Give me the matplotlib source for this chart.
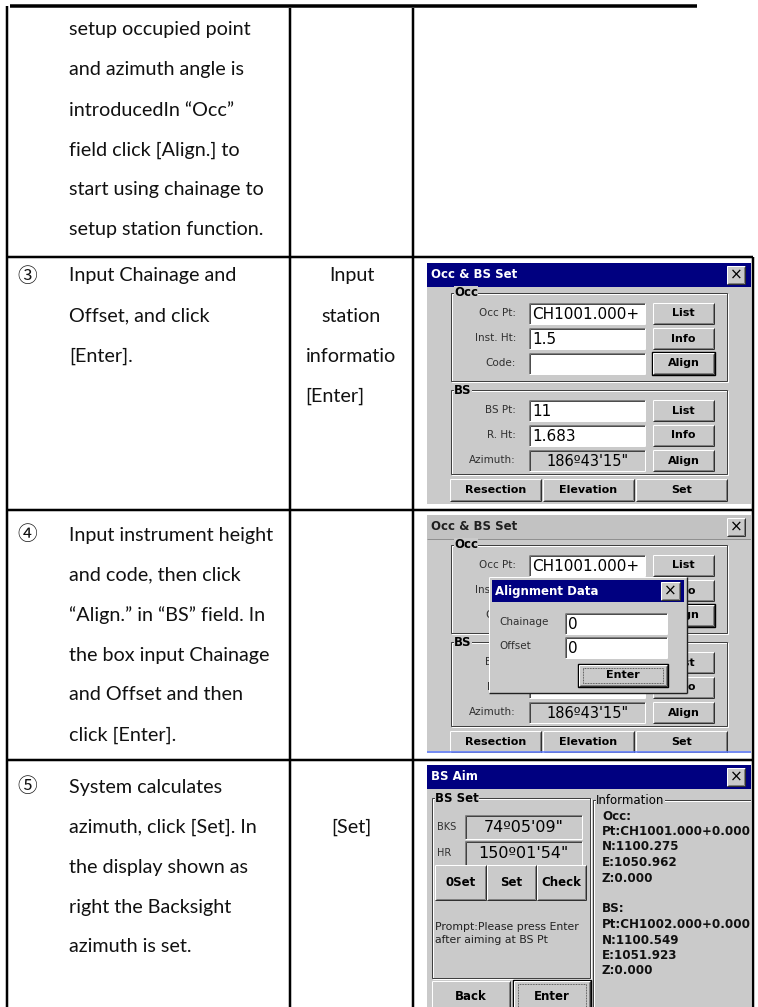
import matplotlib
matplotlib.use("Agg")
import matplotlib.pyplot as plt
from matplotlib.patches import Rectangle

# ---------------- content ----------------
row1_steps = ["setup occupied point", "and azimuth angle is", "introducedIn \u201cOcc\u201d",
              "field click [Align.] to", "start using chainage to", "setup station function."]
row3_num = "\u2462"
row3_steps = ["Input Chainage and", "Offset, and click", "[Enter]."]
row3_keys = ["Input", "station", "informatio"]
row3_key_last = "[Enter]"
row4_num = "\u2463"
row4_steps = ["Input instrument height", "and code, then click", "\u201cAlign.\u201d in \u201cBS\u201d field. In",
              "the box input Chainage", "and Offset and then", "click [Enter]."]
row5_num = "\u2464"
row5_steps = ["System calculates", "azimuth, click [Set]. In", "the display shown as",
              "right the Backsight", "azimuth is set."]
row5_keys = ["", "[Set]"]

occ_labels = ["Occ Pt:", "Inst. Ht:", "Code:"]
occ_values = ["CH1001.000+", "1.5", ""]
bs_labels = ["BS Pt:", "R. Ht:", "Azimuth:"]
bs_values = ["11", "1.683", "186\u00ba43'15\""]
side_buttons = ["List", "Info", "Align"]
bottom_buttons = ["Resection", "Elevation", "Set"]
align_labels = ["Chainage", "Offset"]
align_values = ["0", "0"]
aim_labels = ["BKS", "HR"]
aim_values = ["74\u00ba05'09\"", "150\u00ba01'54\""]
aim_buttons = ["0Set", "Set", "Check"]
prompt_lines = ["Prompt:Please press Enter", "after aiming at BS Pt"]
info_lines = ["Occ:", "Pt:CH1001.000+0.000", "N:1100.275", "E:1050.962", "Z:0.000", "",
              "BS:", "Pt:CH1002.000+0.000", "N:1100.549", "E:1051.923", "Z:0.000"]

# ---------------- page ----------------
W, H = 758, 1007
PX = 0.72
fig = plt.figure(figsize=(W / 100, H / 100), dpi=100)
ax = fig.add_axes([0, 0, 1, 1])
ax.set_xlim(0, W)
ax.set_ylim(H, 0)
ax.axis("off")

BODY = ["Lato", "DejaVu Sans"]
NUMF = ["Noto Sans CJK SC", "DejaVu Sans"]
BFS = 14.2

def hl(a, x0, x1, y, c="black", lw=1.0):
    a.plot([x0, x1], [y, y], color=c, lw=lw * PX, solid_capstyle="butt")

def vl(a, x, y0, y1, c="black", lw=1.0):
    a.plot([x, x], [y0, y1], color=c, lw=lw * PX, solid_capstyle="butt")

# table lines
L, C1, C2, R = 7, 290, 413, 753
rows_y = [257, 510, 760]
hl(ax, 10, 697, 6, lw=3.5)
vl(ax, L, 6, H, lw=2.5)
vl(ax, C1, 8, H, lw=2.5)
vl(ax, C2, 8, H, lw=2.5)
vl(ax, R, rows_y[0], H, lw=2.5)
for y in rows_y:
    hl(ax, L, R, y, lw=2.5)

TX = 69
LS = 40

def body(x, y, s, ha="left"):
    ax.text(x, y, s, ha=ha, va="center", fontsize=BFS, family=BODY, color="#111111")

for i, s in enumerate(row1_steps):
    body(TX, 30 + LS * i, s)

def block(y0, num, steps):
    ax.text(27, y0, num, ha="center", va="center", fontsize=BFS, family=NUMF, color="#111111")
    for i, s in enumerate(steps):
        body(TX, y0 + LS * i, s)

block(rows_y[0] + 19, row3_num, row3_steps)
for i, s in enumerate(row3_keys):
    body((C1 + C2) / 2, rows_y[0] + 19 + LS * i, s, ha="center")
body(C1 + 15, rows_y[0] + 19 + LS * len(row3_keys), row3_key_last)

block(rows_y[1] + 25, row4_num, row4_steps)
block(rows_y[2] + 27, row5_num, row5_steps)
for i, s in enumerate(row5_keys):
    if s:
        body((C1 + C2) / 2, rows_y[2] + 27 + LS * i, s, ha="center")

# ---------------- screen widgets ----------------
SF = "DejaVu Sans"
GRAY = "#cacaca"
NAVY = "#000080"

def screen(x0, y0, w, h, fill=True):
    a = fig.add_axes([x0 / W, 1 - (y0 + h) / H, w / W, h / H])
    a.set_xlim(0, w)
    a.set_ylim(h, 0)
    a.axis("off")
    if fill:
        a.add_patch(Rectangle((0, 0), w, h, fc=GRAY, ec="none"))
    return a

def txt(a, x, y, s, fs=8, bold=False, ha="left", c="black"):
    a.text(x, y, s, ha=ha, va="center", fontsize=fs, family=SF,
           fontweight="bold" if bold else "normal", color=c, clip_on=True)

def raised(a, x, y, w, h, s, fs=8, bold=True, default=False, focus=False):
    a.add_patch(Rectangle((x, y), w, h, fc=GRAY, ec="none"))
    hl(a, x, x + w, y, "white"); vl(a, x, y, y + h, "white")
    hl(a, x, x + w, y + h, "#303030"); vl(a, x + w, y, y + h, "#303030")
    hl(a, x + 1, x + w - 1, y + h - 1, "#808080"); vl(a, x + w - 1, y + 1, y + h - 1, "#808080")
    if default:
        a.add_patch(Rectangle((x - 1, y - 1), w + 2, h + 2, fc="none", ec="black", lw=1.4 * PX))
    if focus:
        a.add_patch(Rectangle((x + 4, y + 3), w - 8, h - 6, fc="none", ec="#303030",
                              lw=0.8 * PX, ls=(0, (1, 1))))
    txt(a, x + w / 2, y + h / 2, s, fs=fs, bold=bold, ha="center")

def sunken(a, x, y, w, h, s, fc="white", fs=11, ha="left"):
    a.add_patch(Rectangle((x, y), w, h, fc=fc, ec="none"))
    hl(a, x, x + w, y, "#808080"); vl(a, x, y, y + h, "#808080")
    hl(a, x + 1, x + w, y + 1, "#202020", 0.8); vl(a, x + 1, y + 1, y + h, "#202020", 0.8)
    hl(a, x, x + w, y + h, "white"); vl(a, x + w, y, y + h, "white")
    if ha == "left":
        txt(a, x + 3, y + h / 2 + 1, s, fs=fs)
    else:
        txt(a, x + w / 2, y + h / 2 + 1, s, fs=fs, ha="center")

def group(a, x, y, w, h, label, bold=True):
    a.add_patch(Rectangle((x + 1, y + 1), w, h, fc="none", ec="white", lw=PX))
    a.add_patch(Rectangle((x, y), w, h, fc="none", ec="#404040", lw=PX))
    a.text(x + 3, y, label, ha="left", va="center", fontsize=8.5, family=SF,
           fontweight="bold" if bold else "normal", clip_on=True,
           bbox=dict(fc=GRAY, ec="none", pad=0.3))

def titlebar(a, w, title, active=True):
    a.add_patch(Rectangle((0, 0), w, 24, fc=NAVY if active else "#c2c2c2", ec="none"))
    if not active:
        hl(a, 0, w, 24, "#909090")
    txt(a, 4, 12, title, fs=8.5, bold=True, c="white" if active else "#202020")
    raised(a, w - 24, 3, 18, 18, "\u00d7", fs=11, bold=False)

def occ_screen(a, w, active=True):
    titlebar(a, w, "Occ & BS Set", active)
    group(a, 24, 30, 276, 88, "Occ")
    group(a, 24, 127, 276, 84, "BS")
    for i in range(3):
        yc = 50 + 25 * i
        txt(a, 89, yc, occ_labels[i], fs=7.5, ha="right", c="#303030")
        sunken(a, 102, yc - 10, 116, 21, occ_values[i])
        raised(a, 226, yc - 10, 61, 21, side_buttons[i], default=(i == 2))
    for i in range(3):
        yc = 147 + 25 * i
        txt(a, 89, yc, bs_labels[i], fs=7.5, ha="right", c="#303030")
        if i < 2:
            sunken(a, 102, yc - 10, 116, 21, bs_values[i])
        else:
            sunken(a, 102, yc - 10, 116, 21, bs_values[i], fc=GRAY, fs=10.5, ha="center")
        raised(a, 226, yc - 10, 61, 21, side_buttons[i])
    for i, s in enumerate(bottom_buttons):
        raised(a, 23 + 93 * i, 216, 91, 22, s)

# screenshot 1
s1 = screen(427, 263, 324, 241)
occ_screen(s1, 324)

# screenshot 2 (inactive) with the Alignment Data dialog on top
s2 = screen(427, 515, 324, 238)
occ_screen(s2, 324, active=False)
hl(s2, 0, 324, 237, "#5a78ff", 1.5)

dw, dh = 198, 116
dlg = screen(427 + 61, 515 + 61, dw + 3, dh + 3, fill=False)
dx, dy = 1, 1
dlg.add_patch(Rectangle((dx, dy), dw, dh, fc=GRAY, ec="none"))
hl(dlg, dx, dx + dw, dy, "white"); vl(dlg, dx, dy, dy + dh, "white")
hl(dlg, dx, dx + dw, dy + dh, "#202020", 1.4); vl(dlg, dx + dw, dy, dy + dh, "#202020", 1.4)
dlg.add_patch(Rectangle((dx + 3, dy + 3), dw - 6, 22, fc=NAVY, ec="none"))
txt(dlg, dx + 6, dy + 14, "Alignment Data", fs=8.5, bold=True, c="white")
raised(dlg, dx + dw - 26, dy + 5, 19, 18, "\u00d7", fs=11, bold=False)
for i in range(2):
    yc = dy + 45 + 24 * i
    txt(dlg, dx + 10, yc, align_labels[i], fs=7.5, c="#303030")
    sunken(dlg, dx + 76, yc - 9, 102, 21, align_values[i])
raised(dlg, dx + 90, dy + 88, 88, 21, "Enter", default=True, focus=True)

# screenshot 3
s3 = screen(427, 765, 324, 242)
titlebar(s3, 324, "BS Aim")
group(s3, 5, 33, 158, 180, "BS Set")
for i in range(2):
    yc = 62 + 26 * i
    txt(s3, 10, yc, aim_labels[i], fs=7, c="#303030")
    sunken(s3, 38, yc - 12, 117, 24, aim_values[i], fc=GRAY, fs=11.5, ha="center")
bx = [8, 60, 110]
bw = [51, 49, 49]
for i, s in enumerate(aim_buttons):
    raised(s3, bx[i], 100, bw[i], 35, s, fs=8.5)
for i, s in enumerate(prompt_lines):
    txt(s3, 8, 162 + 13 * i, s, fs=7.8, c="#202020")
raised(s3, 5, 216, 78, 32, "Back", fs=8.5)
raised(s3, 87, 216, 76, 32, "Enter", fs=8.5, default=True, focus=True)
group(s3, 166, 35, 175, 220, "Information", bold=False)
for i, s in enumerate(info_lines):
    if s:
        txt(s3, 175, 51 + 15.5 * i, s, fs=8.6, bold=True, c="#101010")

fig.savefig("out.png", dpi=100)
